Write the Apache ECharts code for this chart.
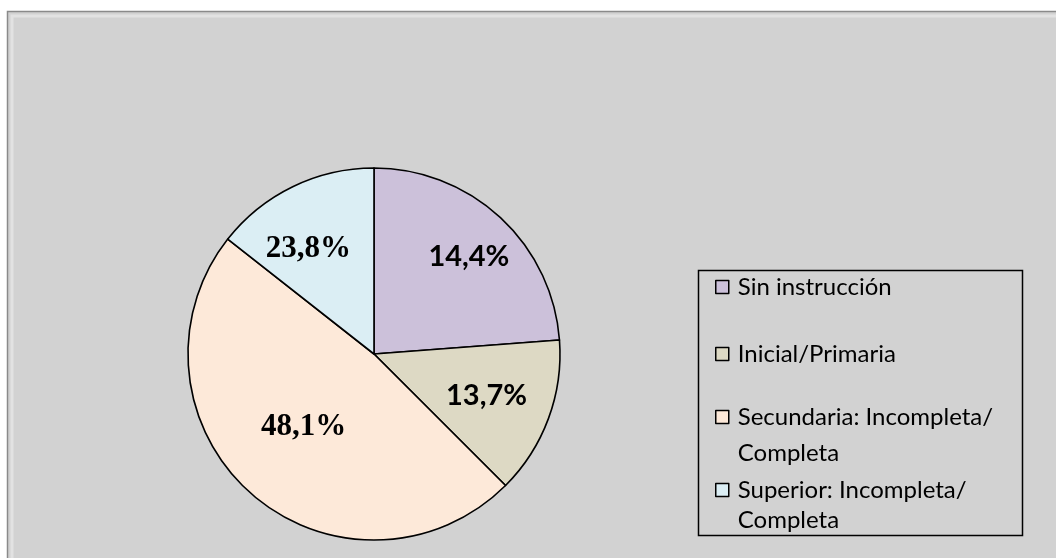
<!DOCTYPE html>
<html>
<head>
<meta charset="utf-8">
<script src="https://cdn.jsdelivr.net/npm/echarts@6/dist/echarts.min.js"></script>
<style>
  html, body { margin: 0; padding: 0; background: #fff; }
  #chart { width: 1056px; height: 558px; }
</style>
</head>
<body>
<div id="chart"></div>
<script>
// categorías y valores (tamaño real de cada sector)
const categories = ['Sin instrucción', 'Inicial/Primaria', 'Secundaria: Incompleta/\nCompleta', 'Superior: Incompleta/\nCompleta']
const values = [23.8, 13.7, 48.1, 14.4]
// etiquetas tal como aparecen en el gráfico original
const labels = ['14,4%', '13,7%', '48,1%', '23,8%']

const colors = ['#ccc1da', '#ddd9c4', '#fde9d9', '#dbeef4']
const labelFonts = ['Lato', 'Lato', 'Liberation Serif', 'Liberation Serif']
const labelSizes = [29, 29, 31, 31]
const labelRadius = [136, 120, 101, 124]
const labelAngleShift = [-1.4, 0, -2.5, 6] // grados
const legendCenters = [287, 354, 417, 490]
const legendLineHeights = [33, 33, 36, 30]

const CX = 374, CY = 354

const chart = echarts.init(document.getElementById('chart'))

const option = {
  backgroundColor: '#fff',
  animation: false,
  graphic: [
    {
      type: 'rect',
      shape: { x: 7.5, y: 11.5, width: 1060, height: 560 },
      style: { fill: '#d2d2d2', stroke: '#8a8a8a', lineWidth: 1.5 },
      z: -10
    },
    {
      type: 'polyline',
      shape: { points: [[12, 570], [12, 16], [1070, 16]] },
      style: { stroke: '#e2e2e2', lineWidth: 3, fill: null },
      z: -9
    },
    {
      type: 'rect',
      shape: { x: 698.5, y: 270.5, width: 324, height: 265 },
      style: { fill: 'transparent', stroke: '#000', lineWidth: 1.5 },
      z: 5
    }
  ],
  legend: categories.map((name, i) => {
    const twoLines = name.indexOf('\n') >= 0
    const lh = legendLineHeights[i]
    return {
      data: [name],
      left: 715,
      top: legendCenters[i] - (twoLines ? 1.5 * lh : 0.5 * lh),
      padding: 0,
      itemWidth: 13,
      itemHeight: 13,
      icon: 'rect',
      itemStyle: { borderColor: '#000', borderWidth: 1.5 },
      // una línea vacía arriba deja el marcador a la altura de la primera línea
      formatter: n => (twoLines ? ' \n' : '') + n,
      textStyle: {
        fontFamily: 'Lato',
        fontSize: 24,
        color: '#000',
        lineHeight: lh,
        padding: [0, 0, 0, 4]
      },
      selectedMode: false
    }
  }),
  series: [
    {
      type: 'pie',
      center: [CX, CY],
      radius: 186,
      startAngle: 90,
      clockwise: true,
      labelLine: { show: false },
      emphasis: { disabled: true },
      itemStyle: { borderColor: '#000', borderWidth: 1.6 },
      data: categories.map((name, i) => ({
        name,
        value: values[i],
        itemStyle: { color: colors[i] },
        label: {
          show: true,
          position: 'inside',
          formatter: labels[i],
          fontFamily: labelFonts[i],
          fontSize: labelSizes[i],
          fontWeight: 'bold',
          color: '#000'
        }
      })),
      labelLayout: function (params) {
        const r = params.labelRect
        const lx = r.x + r.width / 2
        const ly = r.y + r.height / 2
        const i = params.dataIndex
        const a = Math.atan2(ly - CY, lx - CX) - labelAngleShift[i] * Math.PI / 180
        const R = labelRadius[i]
        return {
          dx: CX + R * Math.cos(a) - lx,
          dy: CY + R * Math.sin(a) - ly
        }
      }
    }
  ]
}

chart.setOption(option)
</script>
</body>
</html>
